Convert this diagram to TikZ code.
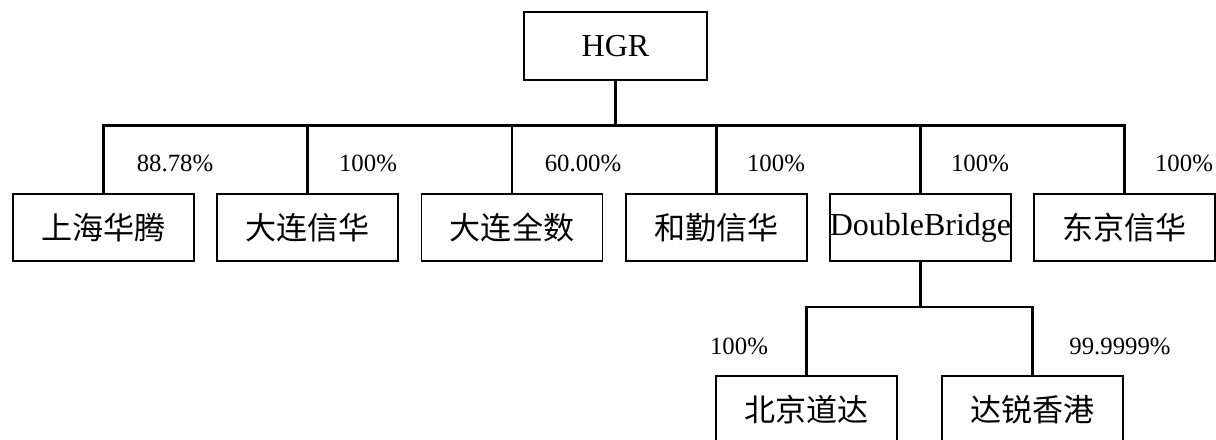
\documentclass[tikz,border=0pt]{standalone}
\usepackage{fontspec}
\setmainfont{Liberation Serif}
\newfontfamily\cjk{Noto Sans CJK SC}
\begin{document}
\begin{tikzpicture}[x=0.75pt,y=-0.75pt,
  box/.style={draw,line width=1.4pt,minimum width=135.75pt,minimum height=50.25pt,inner sep=0pt,outer sep=0pt,font=\fontsize{24}{28}\selectfont},
  cbox/.style={box,font=\fontsize{23.3}{28}\selectfont\cjk},
  pct/.style={font=\fontsize{18.6}{22}\selectfont,inner sep=0pt},
  conn/.style={line width=2.2pt}]
\useasboundingbox (0,0) rectangle (1216,439);
\node[box,minimum width=137.25pt,minimum height=51pt] (hgr) at (615.5,46) {HGR};
\node[cbox] (b1) at (103.5,227.5) {上海华腾};
\node[cbox] (b2) at (307.5,227.5) {大连信华};
\node[cbox] (b3) at (512,227.5) {大连全数};
\node[cbox] (b4) at (716.5,227.5) {和勤信华};
\node[box] (b5) at (920.5,227.5) {DoubleBridge};
\node[cbox] (b6) at (1124.5,227.5) {东京信华};
\node[cbox] (c1) at (806.5,409.5) {北京道达};
\node[cbox] (c2) at (1032.5,409.5) {达锐香港};
\coordinate (bar) at (615.5,125.5);
\coordinate (bar2) at (920.5,307);
\draw[conn] (hgr.south) -- (hgr.south |- bar);
\draw[conn,line cap=rect] (b1.north) -- (b1.north |- bar) -- (b6.north |- bar) -- (b6.north);
\foreach \n in {b2,b3,b4,b5} \draw[conn] (\n.north) -- (\n.north |- bar);
\draw[conn] (b5.south) -- (b5.south |- bar2);
\draw[conn,line cap=rect] (c1.north) -- (c1.north |- bar2) -- (c2.north |- bar2) -- (c2.north);
\node[pct] (p1) at (175,163) {88.78\%};
\node[pct] (p2) at (368,163) {100\%};
\node[pct] (p3) at (583,163) {60.00\%};
\node[pct] (p4) at (776,163) {100\%};
\node[pct] (p5) at (980,163) {100\%};
\node[pct] (p6) at (1184,163) {100\%};
\node[pct] (q1) at (739,346) {100\%};
\node[pct] (q2) at (1120,346) {99.9999\%};
\end{tikzpicture}
\end{document}
